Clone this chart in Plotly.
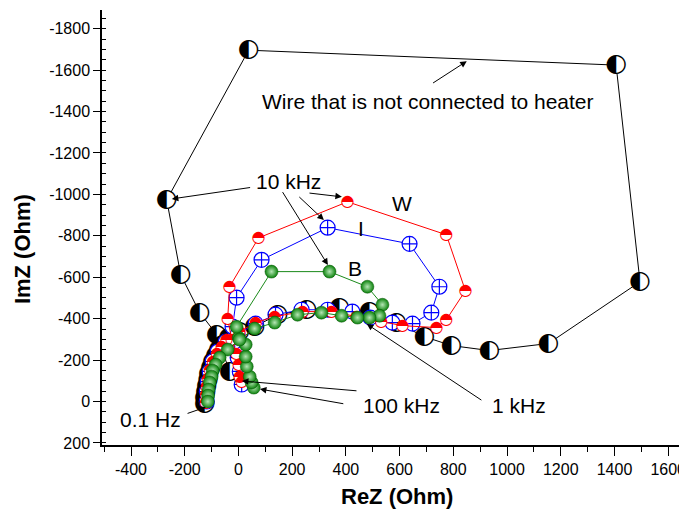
import plotly.graph_objects as go

# ---- data (ReZ, ImZ in Ohm) ----
wire_rez = [-126, -126, -122, -118, -114, -111, -103, -96, -85, -74, -59, -36, 4, 60, 146, 254, 376, 488,
            588, 692, 793, 934, 1154, 1495, 1406, 38, -267, -215, -144, -81, -33]
wire_imz = [10, -19, -48, -77, -106, -135, -164, -193, -222, -251, -275, -308, -337, -361, -419, -443, -453, -434,
            -381, -313, -270, -246, -280, -578, -1624, -1696, -973, -612, -429, -323, -145]

w_rez = [12, 5, 1, -7, -25, -40, -33, 75, 406, 774, 845, 774, 737, 611, 532, 439, 346, 239, 135, 64, 4,
         -45, -62, -80, -95, -106, -113, -118, -121, -122]
w_imz = [-96, -120, -178, -227, -299, -400, -554, -790, -964, -805, -535, -395, -357, -366, -386, -410, -434,
         -434, -410, -381, -337, -295, -265, -230, -190, -150, -110, -70, -30, 5]

i_rez = [12, 5, -3, -14, -22, -7, 86, 332, 637, 748, 718, 648, 573, 491, 424, 332, 235, 138, 64, -3, -47,
         -77, -96, -107, -114, -118, -118]
i_imz = [-82, -145, -212, -289, -361, -501, -684, -839, -761, -554, -429, -376, -381, -405, -434, -443, -443,
         -419, -376, -323, -289, -241, -193, -145, -96, -48, 0]

b_rez = [57, 49, 42, 31, 27, 27, 1, -7, 123, 339, 480, 536, 525, 488, 443, 384, 309, 220, 135, 60, 4, -40,
         -70, -85, -96, -100, -107, -111, -113, -114]
b_imz = [-67, -92, -120, -169, -217, -275, -308, -361, -627, -627, -554, -467, -414, -405, -405, -414, -429,
         -419, -381, -352, -299, -251, -212, -178, -149, -120, -92, -58, -29, 0]

x_tick_vals = [-400, -200, 0, 200, 400, 600, 800, 1000, 1200, 1400, 1600]
x_tick_text = ["-400", "-200", "0", "200", "400", "600", "800", "1000", "1200", "1400", "1600"]
y_tick_vals = [-1800, -1600, -1400, -1200, -1000, -800, -600, -400, -200, 0, 200]
y_tick_text = ["-1800", "-1600", "-1400", "-1200", "-1000", "-800", "-600", "-400", "-200", "0", "200"]

FONT = "Liberation Sans, Arial, sans-serif"

fig = go.Figure()

# black series: wire not connected to heater (half-filled circles)
fig.add_trace(go.Scatter(x=wire_rez, y=wire_imz, mode="lines",
                         line=dict(color="black", width=1), hoverinfo="skip"))
fig.add_trace(go.Scatter(x=wire_rez, y=wire_imz, mode="markers",
                         marker=dict(symbol="circle", size=18, color="white", line=dict(width=0)),
                         hoverinfo="skip"))
fig.add_trace(go.Scatter(x=wire_rez, y=wire_imz, mode="text", text=["\u25D0"] * len(wire_rez),
                         textposition="middle center",
                         textfont=dict(family="DejaVu Sans", size=25, color="black"), hoverinfo="skip"))

# blue series I
fig.add_trace(go.Scatter(x=i_rez, y=i_imz, mode="lines+markers",
                         line=dict(color="#0000ff", width=1),
                         marker=dict(symbol="circle-cross", size=15, color="white",
                                     line=dict(color="#0000ff", width=1.2)),
                         hoverinfo="skip"))

# red series W
fig.add_trace(go.Scatter(x=w_rez, y=w_imz, mode="lines",
                         line=dict(color="#ff0000", width=1), hoverinfo="skip"))
fig.add_trace(go.Scatter(x=w_rez, y=w_imz, mode="markers",
                         marker=dict(symbol="circle", size=11, color="white", line=dict(width=0)),
                         hoverinfo="skip"))
fig.add_trace(go.Scatter(x=w_rez, y=w_imz, mode="text", text=["\u25D3"] * len(w_rez),
                         textposition="middle center",
                         textfont=dict(family="DejaVu Sans", size=16, color="#ff0000"), hoverinfo="skip"))

# green series B
fig.add_trace(go.Scatter(x=b_rez, y=b_imz, mode="lines+markers",
                         line=dict(color="#1a8a1a", width=1),
                         marker=dict(symbol="circle", size=13, color="#0a820a",
                                     gradient=dict(type="radial", color="#b5e6b5"),
                                     line=dict(color="#065506", width=0.5)),
                         hoverinfo="skip"))

annotations = []

def txt(x, y, s, size=21):
    annotations.append(dict(x=x, y=y, xref="x", yref="y", text=s, showarrow=False,
                            font=dict(family=FONT, size=size, color="black"),
                            xanchor="center", yanchor="middle"))

def arrow(hx, hy, tx, ty):
    annotations.append(dict(x=hx, y=hy, ax=tx, ay=ty, xref="x", yref="y", axref="x", ayref="y",
                            text="", showarrow=True, arrowhead=2, arrowsize=1.3, arrowwidth=1,
                            arrowcolor="black", standoff=0, startstandoff=0))

txt(707, -1449, "Wire that is not connected to heater")
txt(188, -1060, "10 kHz")
txt(610, -957, "W")
txt(458, -833, "I")
txt(433, -640, "B")
txt(-326, 85, "0.1 Hz")
txt(606, 20, "100 kHz")
txt(1044, 20, "1 kHz")

arrow(850, -1643, 719, -1533)
arrow(-248, -978, 49, -1034)
arrow(385, -988, 259, -1007)
arrow(318, -876, 221, -994)
arrow(333, -659, 161, -1018)
arrow(13, -99, 445, -51)
arrow(80, -60, 396, 12)
arrow(478, -374, 910, -2)
arrow(-121, 27, -195, 60)

# axis titles
annotations.append(dict(x=0.505, y=-0.118, xref="paper", yref="paper", text="<b>ReZ (Ohm)</b>",
                        showarrow=False, font=dict(family=FONT, size=22, color="black"),
                        xanchor="center", yanchor="middle"))
annotations.append(dict(x=-0.137, y=0.45, xref="paper", yref="paper", text="<b>ImZ (Ohm)</b>",
                        showarrow=False, textangle=-90, font=dict(family=FONT, size=22, color="black"),
                        xanchor="center", yanchor="middle"))

# page body adds an 8px offset, so the figure is sized/shifted to compensate
fig.update_layout(
    width=679, height=504,
    margin=dict(l=94, r=0, t=2, b=67, autoexpand=False),
    paper_bgcolor="white", plot_bgcolor="white",
    showlegend=False,
    annotations=annotations,
    xaxis=dict(range=[-508, 1670], showgrid=False, zeroline=False, showline=True, automargin=False,
               linecolor="black", linewidth=1.5, ticks="outside", ticklen=9, tickwidth=1.3,
               tickcolor="black", tickmode="array", tickvals=x_tick_vals, ticktext=x_tick_text,
               tickfont=dict(family=FONT, size=16, color="black"),
               minor=dict(dtick=100, tick0=0, ticks="outside", ticklen=5, tickwidth=1.2,
                          tickcolor="black", showgrid=False)),
    yaxis=dict(range=[210, -1890], showgrid=False, zeroline=False, showline=True, automargin=False,
               linecolor="black", linewidth=1.5, ticks="outside", ticklen=7, tickwidth=1.3,
               tickcolor="black", tickmode="array", tickvals=y_tick_vals, ticktext=y_tick_text,
               tickfont=dict(family=FONT, size=16, color="black"),
               minor=dict(dtick=50, tick0=0, ticks="inside", ticklen=4, tickwidth=1.2,
                          tickcolor="black", showgrid=False)),
)

fig.write_html("out.html")
